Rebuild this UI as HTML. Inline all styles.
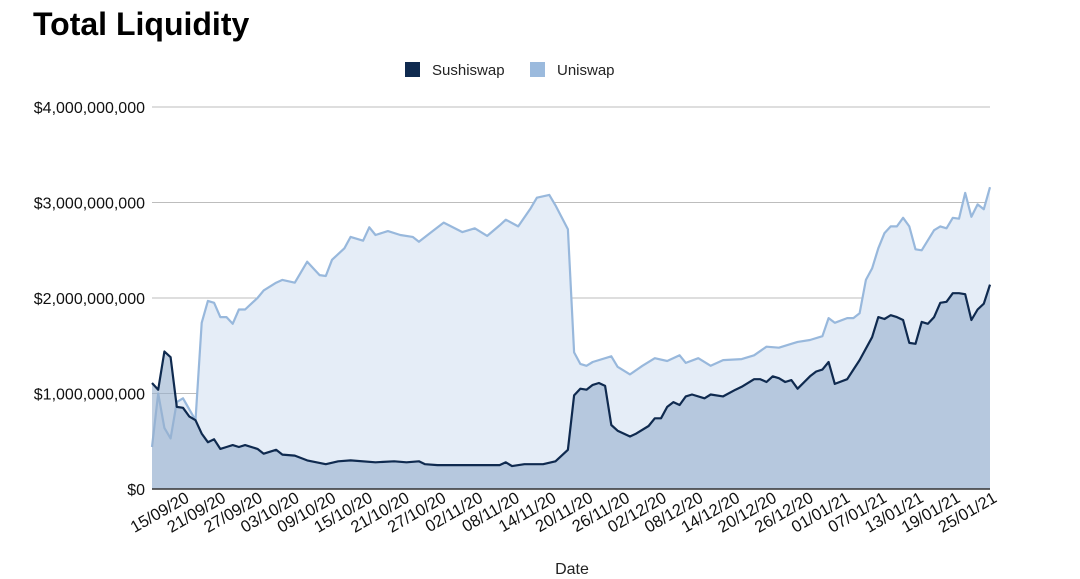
<!DOCTYPE html>
<html><head><meta charset="utf-8"><style>
body{margin:0;background:#fff;width:1080px;height:579px;overflow:hidden;font-family:"Liberation Sans",Arial,sans-serif}
svg{display:block}
</style></head><body>
<svg id="chart" width="1080" height="579" viewBox="0 0 1080 579">
<text x="33" y="35" font-size="32" font-weight="bold" fill="#000">Total Liquidity</text>
<g>
<rect x="405" y="62" width="15" height="15" fill="#0f2a4f"/>
<text x="432" y="75" font-size="15" fill="#222">Sushiswap</text>
<rect x="530" y="62" width="15" height="15" fill="#9bbadd"/>
<text x="557" y="75" font-size="15" fill="#222">Uniswap</text>
</g>
<g id="grid"></g><g id="areas"></g><g id="ylab"></g><g id="xlab"></g>
<text x="572" y="574" font-size="16" text-anchor="middle" fill="#222">Date</text>
</svg>
<script>
const yTicks=[0,1,2,3,4];
const yTickLabels=["$0","$1,000,000,000","$2,000,000,000","$3,000,000,000","$4,000,000,000"];
const xTickLabels=["15/09/20","21/09/20","27/09/20","03/10/20","09/10/20","15/10/20","21/10/20","27/10/20","02/11/20","08/11/20","14/11/20","20/11/20","26/11/20","02/12/20","08/12/20","14/12/20","20/12/20","26/12/20","01/01/21","07/01/21","13/01/21","19/01/21","25/01/21"];
const xTickDays=[3,9,15,21,27,33,39,45,51,57,63,69,75,81,87,93,99,105,111,117,123,129,135];
const uniDays=[0,1,2,3,4,5,7,8,9,10,11,12,13,14,15,16,17,18,20,21,23,24,25,27,28,29,31,32,34,35,36,38,40,42,43,45,47,50,52,54,56,57,59,61,62,64,65,67,68,69,70,71,74,75,77,79,81,83,85,86,88,90,92,95,97,99,101,103,104,106,108,109,110,112,113,114,115,116,117,118,119,120,121,122,123,124,126,127,128,129,130,131,132,133,134,135];
const uniValues=[0.44,1.0,0.64,0.53,0.91,0.95,0.72,1.74,1.97,1.95,1.80,1.80,1.73,1.88,1.88,1.94,2.0,2.08,2.16,2.19,2.16,2.27,2.38,2.24,2.23,2.40,2.52,2.64,2.60,2.74,2.66,2.70,2.66,2.64,2.59,2.69,2.79,2.69,2.73,2.65,2.76,2.82,2.75,2.94,3.05,3.08,2.97,2.72,1.43,1.31,1.29,1.33,1.39,1.28,1.20,1.29,1.37,1.34,1.40,1.32,1.37,1.29,1.35,1.36,1.40,1.49,1.48,1.52,1.54,1.56,1.60,1.79,1.74,1.79,1.79,1.84,2.19,2.31,2.52,2.68,2.75,2.75,2.84,2.75,2.51,2.50,2.71,2.75,2.73,2.84,2.83,3.10,2.85,2.98,2.93,3.16];
const sushiDays=[0,1,2,3,4,5,6,7,8,9,10,11,12,13,14,15,17,18,20,21,23,25,28,30,32,36,39,41,43,44,46,49,52,54,56,57,58,60,63,65,66,67,68,69,70,71,72,73,74,75,77,78,80,81,82,83,84,85,86,87,89,90,92,94,95,97,98,99,100,101,102,103,104,106,107,108,109,110,112,113,114,116,117,118,119,120,121,122,123,124,125,126,127,128,129,130,131,132,133,134,135];
const sushiValues=[1.11,1.04,1.44,1.38,0.86,0.85,0.76,0.72,0.58,0.49,0.52,0.42,0.44,0.46,0.44,0.46,0.42,0.37,0.41,0.36,0.35,0.30,0.26,0.29,0.30,0.28,0.29,0.28,0.29,0.26,0.25,0.25,0.25,0.25,0.25,0.28,0.24,0.26,0.26,0.29,0.35,0.41,0.98,1.05,1.04,1.09,1.11,1.08,0.67,0.61,0.55,0.58,0.66,0.74,0.74,0.86,0.91,0.88,0.97,0.99,0.95,0.99,0.97,1.04,1.07,1.15,1.15,1.12,1.18,1.16,1.12,1.14,1.05,1.18,1.23,1.25,1.33,1.10,1.15,1.25,1.35,1.59,1.80,1.78,1.82,1.80,1.77,1.53,1.52,1.75,1.73,1.80,1.95,1.96,2.05,2.05,2.04,1.77,1.88,1.94,2.14];
const NS="http://www.w3.org/2000/svg";
const X0=152,X1=990,Y0=489,Y1=107,DMAX=135,VMAX=4;
function x(d){return X0+(X1-X0)*d/DMAX;}
function y(v){return Y0-(Y0-Y1)*v/VMAX;}
function xl(d){return 998-(DMAX-d)*6.12;}
function mk(tag,attrs,parent){const e=document.createElementNS(NS,tag);for(const k in attrs)e.setAttribute(k,attrs[k]);parent.appendChild(e);return e;}
const grid=document.getElementById('grid'),areas=document.getElementById('areas'),ylab=document.getElementById('ylab'),xlab=document.getElementById('xlab');
yTicks.forEach((t,i)=>{
 if(t>0){const l=mk('line',{x1:X0,x2:X1,y1:y(t),y2:y(t),stroke:'#bdbdbd','stroke-width':1},grid);
 
 }
 const tx=mk('text',{x:145,y:y(t)+6,'text-anchor':'end','font-size':16,fill:'#111'},ylab);
 tx.textContent=yTickLabels[i];
 
 
});
function series(days,vals,fill,stroke,name){
 const pts=days.map((d,i)=>x(d).toFixed(1)+','+y(vals[i]).toFixed(1));
 const a=mk('path',{d:'M'+x(days[0])+','+Y0+' L'+pts.join(' L')+' L'+x(days[days.length-1])+','+Y0+' Z',fill:fill},areas);
 
 
 const l=mk('path',{d:'M'+pts.join(' L'),fill:'none',stroke:stroke,'stroke-width':2.2,'stroke-linejoin':'round'},areas);
 
 
}
series(uniDays,uniValues,'#e5edf7','#98b8dc','uniswap');
series(sushiDays,sushiValues,'rgba(150,175,205,0.6)','#0f2a4f','sushiswap');
const ax=mk('line',{x1:X0,x2:X1,y1:Y0,y2:Y0,stroke:'#333','stroke-width':1.5},areas);


xTickLabels.forEach((lab,i)=>{
 const px=xl(xTickDays[i]);
 const t=mk('text',{x:0,y:0,'text-anchor':'end','font-size':16.5,fill:'#111',transform:'translate('+px+',501) rotate(-30)'},xlab);
 t.textContent=lab;
 
 
});
</script>
</body></html>
